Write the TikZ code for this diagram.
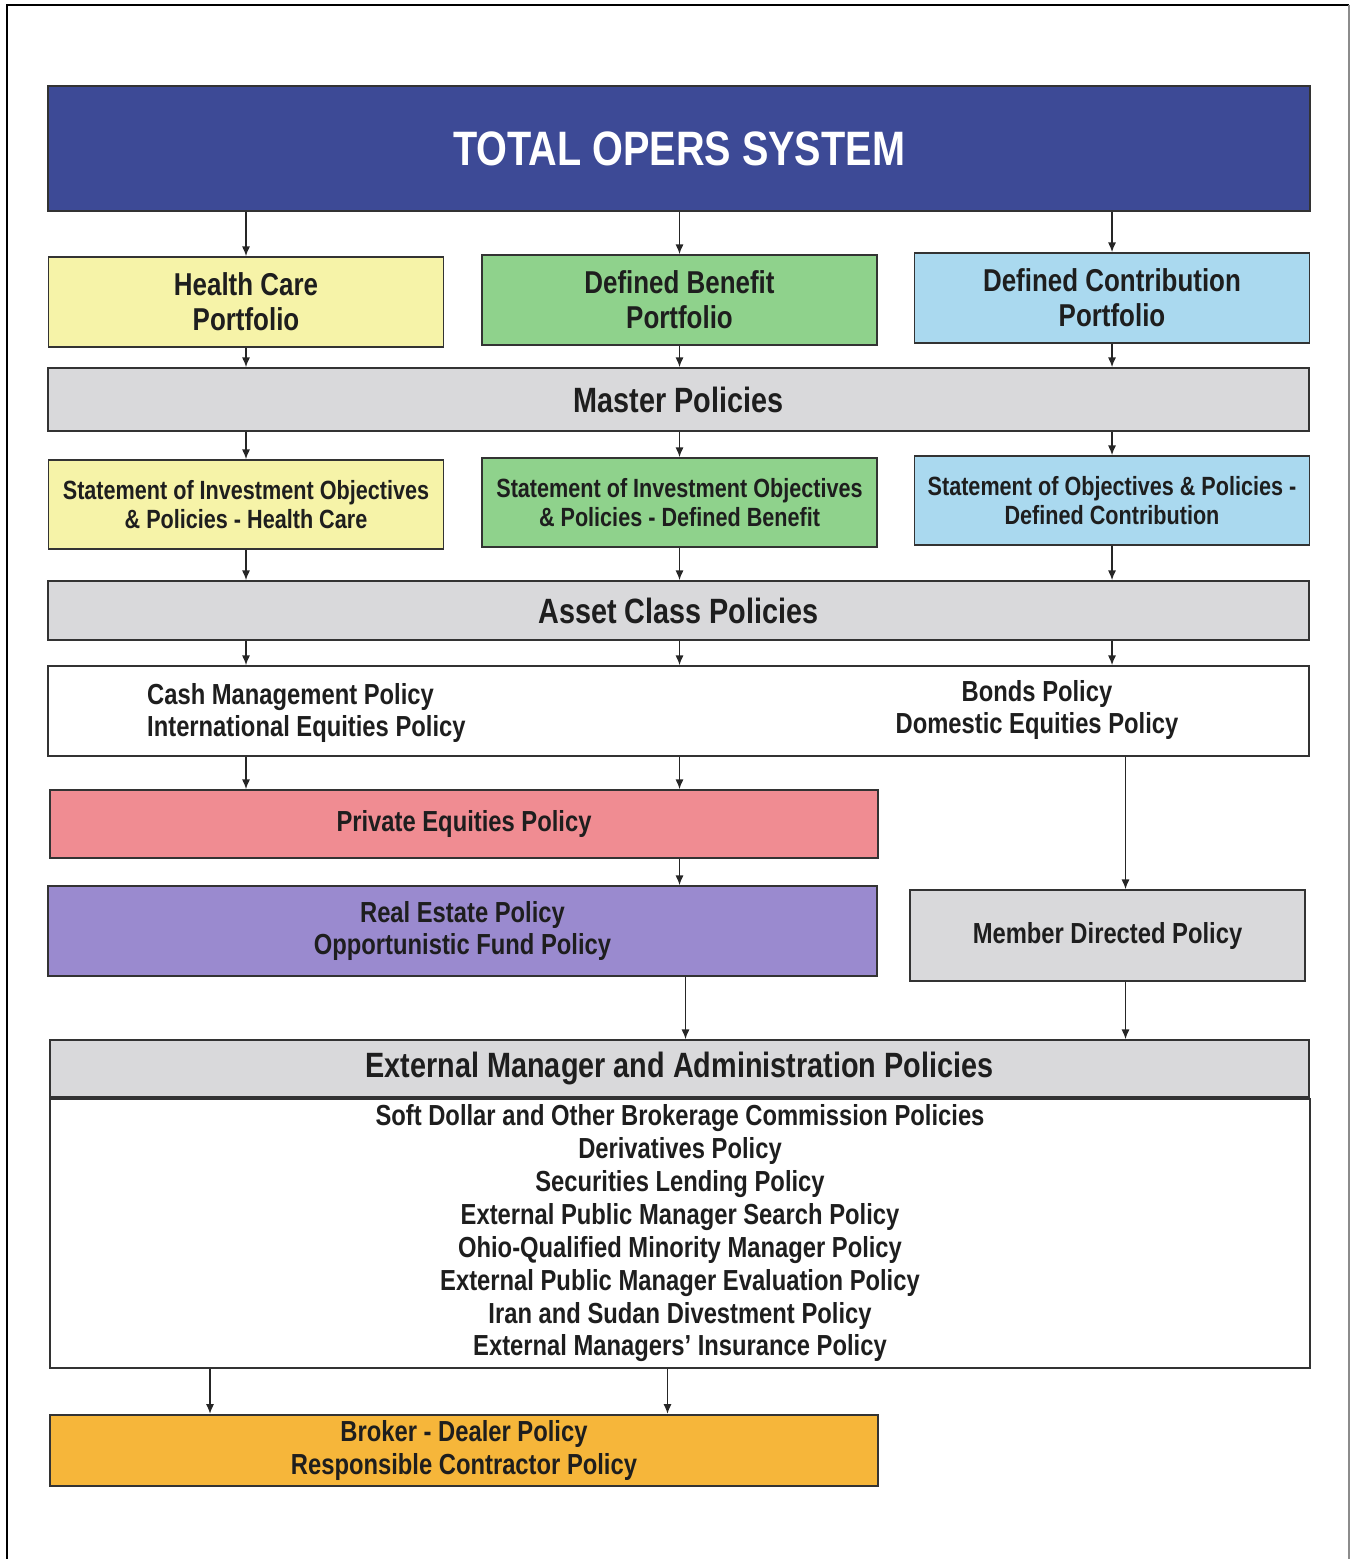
\documentclass[tikz,border=0pt]{standalone}
\usepackage{fontspec}
\setmainfont{Liberation Sans}[FakeStretch=0.82]
\usetikzlibrary{arrows.meta,positioning}
\definecolor{opblue}{HTML}{3D4A96}
\definecolor{opyellow}{HTML}{F6F3A8}
\definecolor{opgreen}{HTML}{8FD28C}
\definecolor{opsky}{HTML}{AAD9EF}
\definecolor{opgrey}{HTML}{D9D9DB}
\definecolor{oppink}{HTML}{F08C92}
\definecolor{opviolet}{HTML}{9A8ACF}
\definecolor{oporange}{HTML}{F6B63A}
\definecolor{opink}{HTML}{1E1E1E}
\newcommand{\fsz}[2]{\fontsize{#1}{#2}\selectfont}

\begin{document}
\begin{tikzpicture}[x=0.02cm,y=-0.02cm,
  bx/.style={draw=black!80,line width=1pt,align=center,text=opink,font=\bfseries\fsz{16.5}{18.7}},
  port/.style={bx,minimum width=7.9cm,minimum height=1.8cm,font=\bfseries\fsz{18}{20}},
  stmt/.style={bx,minimum width=7.9cm,minimum height=1.78cm,font=\bfseries\fsz{15}{16.8}},
  band/.style={bx,fill=opgrey,minimum width=25.22cm,font=\bfseries\fsz{20}{22}},
  txt/.style={text=opink,font=\bfseries\fsz{16.5}{18.7}},
  arr/.style={-{Latex[length=5.5pt,width=4.6pt]},line width=0.8pt,black!85}]
  \useasboundingbox (0,0) rectangle (1350,1559);
  % page frame
  \draw[line width=0.8pt] (7,1559) -- (7,5) -- (1349,5);
  \draw[line width=0.8pt,black!45] (1349,5) -- (1349,1559);
  % top
  \node[bx,fill=opblue,minimum width=25.24cm,minimum height=2.5cm,text=white,
    font=\bfseries\fsz{27.5}{29}] (top) at (679,148.5) {TOTAL OPERS SYSTEM};
  % portfolios
  \node[port,fill=opyellow] (hc) at (246,302) {Health Care\\Portfolio};
  \node[port,fill=opgreen]  (db) at (679.5,300) {Defined Benefit\\Portfolio};
  \node[port,fill=opsky]    (dc) at (1112,298) {Defined Contribution\\Portfolio};
  \node[band,minimum height=1.26cm] (master) at (678.5,399.5) {Master Policies};
  % statements
  \node[stmt,fill=opyellow] (shc) at (246,504.5)
    {Statement of Investment Objectives\\\& Policies - Health Care};
  \node[stmt,fill=opgreen]  (sdb) at (679.5,502.5)
    {Statement of Investment Objectives\\\& Policies - Defined Benefit};
  \node[stmt,fill=opsky]    (sdc) at (1112,500.5)
    {Statement of Objectives \& Policies -\\Defined Contribution};
  \node[band,minimum height=1.18cm] (asset) at (678.5,610.5) {Asset Class Policies};
  % asset classes
  \node[bx,minimum width=25.22cm,minimum height=1.8cm] (cls) at (678.5,711) {};
  \node[txt,align=left,anchor=west] (cashtxt) at (141,713)
    {Cash Management Policy\\International Equities Policy};
  \node[txt,align=center] (bondtxt) at (1037,710)
    {Bonds Policy\\Domestic Equities Policy};
  \node[bx,fill=oppink,minimum width=16.56cm,minimum height=1.36cm] (pe) at (464,824)
    {Private Equities Policy};
  \node[bx,fill=opviolet,minimum width=16.58cm,minimum height=1.8cm] (re) at (462.5,931)
    {Real Estate Policy\\Opportunistic Fund Policy};
  \node[bx,fill=opgrey,minimum width=7.9cm,minimum height=1.82cm] (mdp) at (1107.5,935.5)
    {Member Directed Policy};
  % external managers
  \node[band,minimum width=25.18cm,minimum height=1.14cm] (ext) at (679.5,1068.5)
    {External Manager and Administration Policies};
  \node[bx,minimum width=25.2cm,minimum height=5.38cm] (lst) at (680,1233.5)
    {Soft Dollar and Other Brokerage Commission Policies\\
     Derivatives Policy\\
     Securities Lending Policy\\
     External Public Manager Search Policy\\
     Ohio-Qualified Minority Manager Policy\\
     External Public Manager Evaluation Policy\\
     Iran and Sudan Divestment Policy\\
     External Managers’ Insurance Policy};
  \node[bx,fill=oporange,minimum width=16.56cm,minimum height=1.38cm] (bd) at (464,1450.5)
    {Broker - Dealer Policy\\Responsible Contractor Policy};
  % arrows
  \foreach \p in {hc,db,dc}
    \draw[arr] (top.south -| \p) -- (\p.north);
  \foreach \p/\s in {hc/shc,db/sdb,dc/sdc} {
    \draw[arr] (\p.south) -- (\p.south |- master.north);
    \draw[arr] (master.south -| \s) -- (\s.north);
    \draw[arr] (\s.south) -- (\s.south |- asset.north);
    \draw[arr] (asset.south -| \s) -- (\s |- cls.north);
  }
  \draw[arr] (cls.south -| shc) -- (shc |- pe.north);
  \draw[arr] (cls.south -| sdb) -- (sdb |- pe.north);
  \draw[arr] ([xshift=0.36cm]cls.south -| mdp) -- ([xshift=0.36cm]mdp.north);
  \draw[arr] (pe.south -| sdb) -- (sdb |- re.north);
  \draw[arr] ([xshift=0.12cm]re.south -| sdb) -- ([xshift=0.12cm]sdb |- ext.north);
  \draw[arr] ([xshift=0.36cm]mdp.south) -- ([xshift=0.36cm]mdp.south |- ext.north);
  \draw[arr] ([xshift=-0.72cm]lst.south -| hc) -- ([xshift=-0.72cm]hc |- bd.north);
  \draw[arr] ([xshift=-0.24cm]lst.south -| sdb) -- ([xshift=-0.24cm]sdb |- bd.north);
\end{tikzpicture}
\end{document}
